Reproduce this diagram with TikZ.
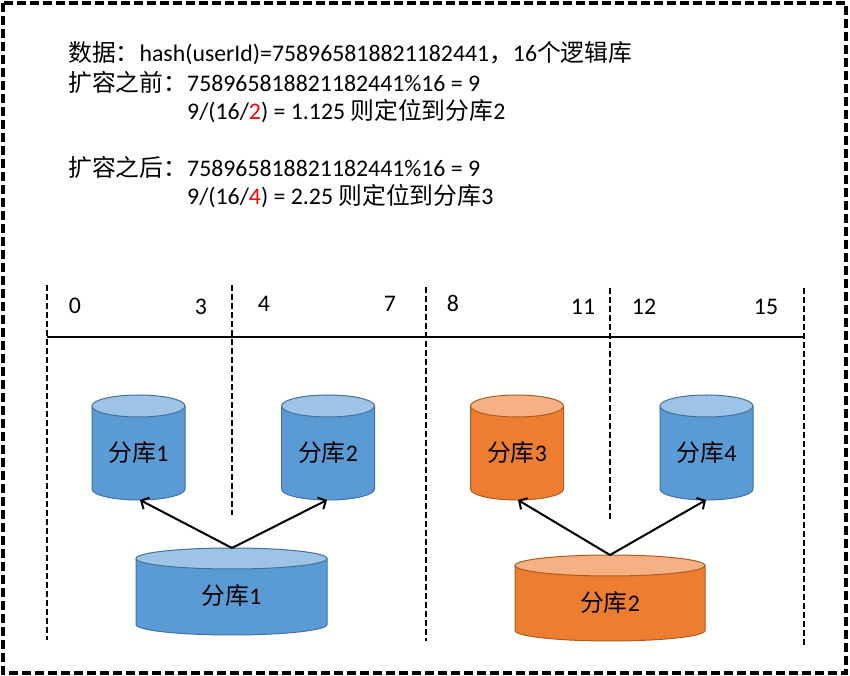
\documentclass[tikz,border=0pt]{standalone}
\usepackage{fontspec}
\setmainfont{Carlito}
\newfontfamily\cjk{Noto Sans CJK SC}
\usetikzlibrary{arrows.meta}
\definecolor{bluebody}{HTML}{5B9BD5}
\definecolor{bluetop}{HTML}{9DC3E6}
\definecolor{blueedge}{HTML}{41719C}
\definecolor{orangebody}{HTML}{ED7D31}
\definecolor{orangetop}{HTML}{F4B183}
\definecolor{orangeedge}{HTML}{AE5A21}
\definecolor{redtxt}{HTML}{FF0000}
\newcommand\dbcyl[6]{%
  \fill[#6body] (#1-#3,#2) -- (#1-#3,#4) arc[start angle=180,end angle=360,x radius=#3,y radius=#5] -- (#1+#3,#2) -- cycle;
  \draw[#6edge,line width=1pt] (#1-#3,#2) -- (#1-#3,#4) arc[start angle=180,end angle=360,x radius=#3,y radius=#5] -- (#1+#3,#2);
  \draw[#6edge,line width=1pt,fill=#6top] (#1,#2) ellipse[x radius=#3,y radius=#5];
}
\begin{document}
\begin{tikzpicture}[x=1pt,y=1pt,
  txt/.style={inner sep=0pt,anchor=base west,font=\fontsize{23.8}{28}\selectfont},
  num/.style={inner sep=0pt,anchor=base,font=\fontsize{23.8}{28}\selectfont},
  lbl/.style={inner sep=0pt,anchor=base,font=\fontsize{23.8}{28}\selectfont},
  border/.style={line width=3.4pt,dash pattern=on 9pt off 4pt},
  divider/.style={line width=1.8pt,dash pattern=on 6pt off 3pt},
  axis/.style={line width=2.2pt},
  link/.style={line width=2pt,-{Straight Barb[length=6pt,width=13pt,line width=2pt]}}]
\useasboundingbox (0,0) rectangle (850,676);
\fill[white] (0,0) rectangle (850,676);
\draw[border] (3,673) rectangle (846,3);
% text
\node[txt] (t1) at (68,614) {{\cjk 数据：}hash(userId)=758965818821182441{\cjk ，}16{\cjk 个逻辑库}};
\node[txt] (t2) at (68,584) {{\cjk 扩容之前：}758965818821182441\%16 = 9};
\node[txt] (t3) at (187,556) {9/(16/{\color{redtxt}2}) = 1.125 {\cjk 则定位到分库}2};
\node[txt] (t4) at (68,499) {{\cjk 扩容之后：}758965818821182441\%16 = 9};
\node[txt] (t5) at (187,471) {9/(16/{\color{redtxt}4}) = 2.25 {\cjk 则定位到分库}3};
% dividers
\draw[divider] (47,391) -- (47,36);
\draw[divider] (232,391) -- (232,161);
\draw[divider] (426,389) -- (426,35);
\draw[divider] (610,388) -- (610,156);
\draw[divider] (804,388) -- (804,31);
\draw[axis] (47,339) -- (804,339);
% numbers
\node[num] (n0) at (75,362) {0};
\node[num] (n3) at (201,361) {3};
\node[num] (n4) at (264,364) {4};
\node[num] (n7) at (390,364) {7};
\node[num] (n8) at (453,364) {8};
\node[num] (n11) at (583,361) {11};
\node[num] (n12) at (644,361) {12};
\node[num] (n15) at (766,361) {15};
% cylinders
\dbcyl{138.5}{270}{46.5}{187}{11}{blue}
\dbcyl{328}{270}{46.5}{187}{11}{blue}
\dbcyl{517}{270}{46.5}{187}{11}{orange}
\dbcyl{706.5}{270}{46.5}{187}{11}{blue}
\dbcyl{231.5}{117.5}{95.5}{51.5}{10.5}{blue}
\dbcyl{610}{110.5}{95}{45.5}{10.5}{orange}
\node[lbl] (s1) at (138.5,214) {{\cjk 分库}1};
\node[lbl] (s2) at (328,214) {{\cjk 分库}2};
\node[lbl] (s3) at (517,214) {{\cjk 分库}3};
\node[lbl] (s4) at (706.5,214) {{\cjk 分库}4};
\node[lbl] (b1) at (231.5,71) {{\cjk 分库}1};
\node[lbl] (b2) at (610,64) {{\cjk 分库}2};
% connector endpoints
\coordinate (b1top) at (232,128);
\coordinate (b2top) at (610,121);
\coordinate (s1bot) at (140,176);
\coordinate (s2bot) at (327,176);
\coordinate (s3bot) at (518,176);
\coordinate (s4bot) at (706,176);
\draw[link] (b1top) -- (s1bot);
\draw[link] (b1top) -- (s2bot);
\draw[link] (b2top) -- (s3bot);
\draw[link] (b2top) -- (s4bot);
\end{tikzpicture}
\end{document}
